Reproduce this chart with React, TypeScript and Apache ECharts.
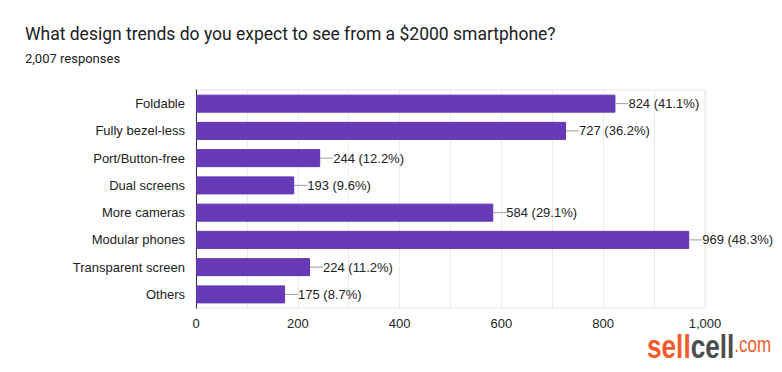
import React, { useEffect, useRef } from "react";
import * as echarts from "echarts";

const categories = [
  "Foldable",
  "Fully bezel-less",
  "Port/Button-free",
  "Dual screens",
  "More cameras",
  "Modular phones",
  "Transparent screen",
  "Others",
];
const counts = [824, 727, 244, 193, 584, 969, 224, 175];
const percents = ["41.1", "36.2", "12.2", "9.6", "29.1", "48.3", "11.2", "8.7"];
const xTicks = [0, 200, 400, 600, 800, 1000];

const TITLE = "What design trends do you expect to see from a $2000 smartphone?";
const SUBTITLE = "2,007 responses";

const LABEL_FONT = "Arial, 'Liberation Sans', sans-serif";
const LOGO_FONT = "'Liberation Sans', Arial, sans-serif";

export default function App() {
  const ref = useRef<HTMLDivElement>(null);

  useEffect(() => {
    document.body.style.margin = "0";
    if (!ref.current) return;
    const chart = echarts.init(ref.current, null, { renderer: "svg" });
    const option: any = {
      animation: false,
      backgroundColor: "#ffffff",
      title: [
        {
          text: TITLE,
          left: 20,
          top: 20,
          textStyle: {
            fontFamily: "Roboto, sans-serif",
            fontSize: 17.5,
            fontWeight: "normal",
            color: "#202124",
          },
        },
        {
          text: SUBTITLE,
          left: 20,
          top: 47,
          textStyle: {
            fontFamily: "Roboto, sans-serif",
            fontSize: 13,
            fontWeight: "normal",
            color: "#202124",
          },
        },
      ],
      grid: {
        left: 196,
        right: 77,
        top: 90,
        bottom: 64,
        show: true,
        borderColor: "#e6e6e6",
        borderWidth: 1,
      },
      xAxis: {
        type: "value",
        min: 0,
        max: 1000,
        interval: 100,
        axisLine: { show: false },
        axisTick: { show: false },
        splitLine: { show: true, lineStyle: { color: "#ebebeb", width: 1 } },
        axisLabel: {
          margin: 9,
          color: "#222222",
          fontSize: 13,
          fontFamily: LABEL_FONT,
          formatter: (v: number) =>
            xTicks.indexOf(v) >= 0 ? v.toLocaleString("en-US") : "",
        },
      },
      yAxis: {
        type: "category",
        inverse: true,
        data: categories,
        axisLine: { show: true, lineStyle: { color: "#333333", width: 1 } },
        axisTick: { show: false },
        splitLine: { show: false },
        axisLabel: {
          margin: 11,
          color: "#222222",
          fontSize: 13,
          fontFamily: LABEL_FONT,
        },
      },
      series: [
        {
          type: "bar",
          data: counts,
          barWidth: 18,
          itemStyle: {
            color: "#673ab7",
            borderColor: "#5e35b1",
            borderWidth: 1,
          },
          z: 2,
        },
        {
          type: "custom",
          data: counts.map((v, i) => [v, i]),
          encode: { x: 0, y: 1 },
          z: 3,
          renderItem: (params: any, api: any) => {
            const v = api.value(0);
            const idx = api.value(1);
            const pt = api.coord([v, idx]);
            const i = params.dataIndex;
            return {
              type: "group",
              children: [
                {
                  type: "line",
                  shape: { x1: pt[0], y1: pt[1], x2: pt[0] + 13, y2: pt[1] },
                  style: { stroke: "#9e9e9e", lineWidth: 1 },
                },
                {
                  type: "text",
                  style: {
                    text: `${counts[i]} (${percents[i]}%)`,
                    x: pt[0] + 13,
                    y: pt[1],
                    verticalAlign: "middle",
                    align: "left",
                    fill: "#222222",
                    font: `13px ${LABEL_FONT}`,
                  },
                },
              ],
            };
          },
        },
      ],
      graphic: [
        {
          type: "text",
          x: 647,
          y: 329,
          scaleX: 0.77,
          style: {
            x: 0,
            y: 0,
            text: "{a|sell}{b|cell}{c|.com}",
            rich: {
              a: {
                fill: "#f15a2b",
                fontSize: 34,
                fontWeight: "bold",
                fontFamily: LOGO_FONT,
              },
              b: {
                fill: "#4d4d4d",
                fontSize: 34,
                fontWeight: "bold",
                fontFamily: LOGO_FONT,
              },
              c: {
                fill: "#f15a2b",
                fontSize: 22,
                fontFamily: LOGO_FONT,
                padding: [0, 0, 3, 0],
              },
            },
          },
        },
      ],
    };
    chart.setOption(option);
    return () => chart.dispose();
  }, []);

  return <div ref={ref} style={{ width: 782, height: 372 }} />;
}
